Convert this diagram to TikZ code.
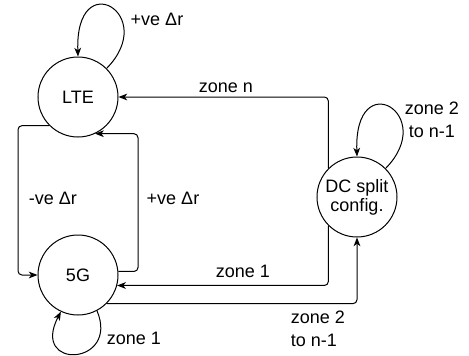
\documentclass[tikz,border=0pt]{standalone}
\usepackage{fontspec}
\setmainfont{Liberation Sans}
\usetikzlibrary{arrows.meta}
\begin{document}
\begin{tikzpicture}[x=0.75pt,y=-0.75pt,line width=0.75pt,
  >={Stealth[length=6.5pt,width=5pt,inset=1.8pt]},
  state/.style={circle,draw,minimum size=60pt,inner sep=0pt,font=\fontsize{13.5}{14.3}\selectfont,align=center},
  lbl/.style={font=\fontsize{13.5}{17.5}\selectfont,inner sep=0pt},
  conn/.style={draw,->,rounded corners=3pt}]
\useasboundingbox (0,0) rectangle (469,355);
\node[state] (lte) at (78,97) {LTE};
\node[state] (g5) at (78,275) {5G};
\node[state] (dc) at (357,197) {DC split\\config.};
\coordinate (lx) at (18,200);
\coordinate (rx) at (138,200);
% self loops
\draw[->] (lte.45) .. controls +(53,-54) and +(-3,-92) .. (lte.north);
\draw[->] (dc.45) .. controls +(53,-54) and +(-3,-92) .. (dc.north);
\draw[->] (g5.-62) .. controls +(23,55) and +(-31,59) .. (g5.-115);
% edges
\draw[conn] (dc.135) |- (lte.east);
\draw[conn] (dc.225) |- (g5.-15);
\draw[conn] (g5.-45) -| (dc.south);
\draw[conn] (lte.225) -| (lx) |- (g5.west);
\draw[conn] (g5.5) -| (rx) |- (lte.-65);
% labels
\node[lbl] (l1) at (157,19) {+ve Δr};
\node[lbl] (l2) at (226,88) {zone n};
\node[lbl] (l3) at (243,271) {zone 1};
\node[lbl,align=left] (l4) at (318,329) {zone 2\\to n-1};
\node[lbl,align=center] (l5) at (432,120) {zone 2\\to n-1};
\node[lbl] (l6) at (53,198) {-ve Δr};
\node[lbl] (l7) at (173,198) {+ve Δr};
\node[lbl] (l8) at (134,338) {zone 1};
\end{tikzpicture}
\end{document}
